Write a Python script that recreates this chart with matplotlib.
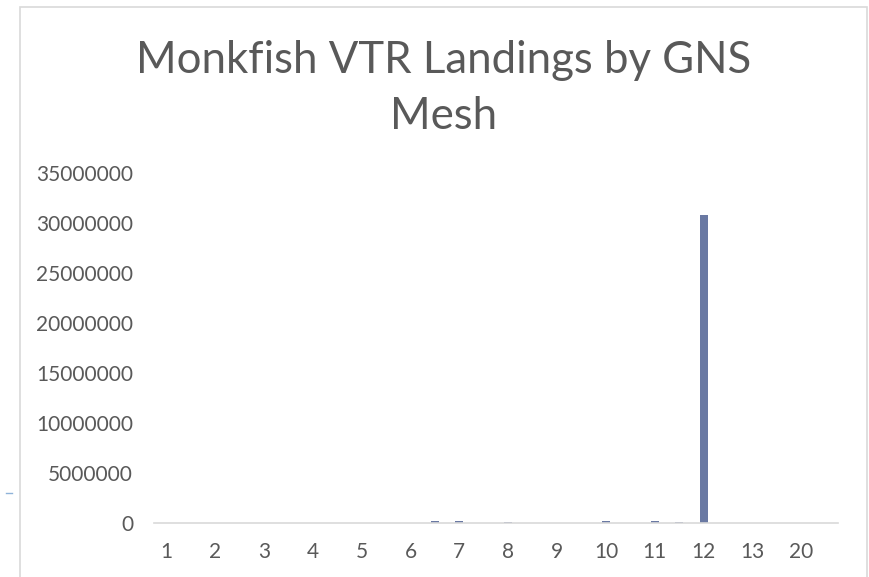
import numpy as np
import matplotlib.pyplot as plt
from matplotlib.patches import Rectangle
from matplotlib.lines import Line2D

# categorias (malha GNS) - rótulos ocultos nas posições ímpares
malhas = ['1', '1.5', '2', '2.5', '3', '3.5', '4', '4.5', '5', '5.5',
          '6', '6.5', '7', '7.5', '8', '8.5', '9', '9.5', '10', '10.5',
          '11', '11.5', '12', '12.5', '13', '13.5', '20', '20.5']
desembarques = [0, 0, 0, 0, 0, 0, 0, 0, 0, 0,
                0, 230000, 180000, 0, 130000, 0, 0, 0, 200000, 0,
                230000, 60000, 30800000, 0, 0, 0, 0, 0]
yticks = [0, 5000000, 10000000, 15000000, 20000000, 25000000, 30000000, 35000000]

cinza = '#595959'
fonte = 'Lato'

fig = plt.figure(figsize=(8.69, 5.77), dpi=100)
ax = fig.add_axes([0.1772, 0.0936, 0.7871, 0.6066])

x = np.arange(len(malhas))
ax.bar(x, desembarques, width=0.32, color='#6a79a3')

ax.set_xlim(-0.5, len(malhas) - 0.5)
ax.set_ylim(0, 35000000)
ax.set_yticks(yticks)
ax.set_yticklabels([str(v) for v in yticks], fontsize=15, color=cinza, family=fonte)
ax.set_xticks(x[::2])
ax.set_xticklabels(malhas[::2], fontsize=15, color=cinza, family=fonte)
ax.tick_params(length=0)
ax.tick_params(axis='y', pad=15)
ax.tick_params(axis='x', pad=14)

for lado in ['top', 'left', 'right']:
    ax.spines[lado].set_visible(False)
ax.spines['bottom'].set_color('#d9d9d9')
ax.spines['bottom'].set_linewidth(1.2)

fig.text(0.51, 0.847, 'Monkfish VTR Landings by GNS\nMesh', ha='center', va='center',
         fontsize=31.5, color=cinza, family=fonte, linespacing=1.46)

# borda do gráfico
fig.patches.append(Rectangle((20 / 869, -0.05), 847 / 869, 1 - 7 / 577 + 0.05,
                             transform=fig.transFigure, fill=False,
                             edgecolor='#d9d9d9', linewidth=1.2))
fig.lines.append(Line2D([6 / 869, 12 / 869], [1 - 493 / 577, 1 - 493 / 577],
                        transform=fig.transFigure, color='#8fb3d9', linewidth=1))

plt.savefig('out.png', dpi=100)
